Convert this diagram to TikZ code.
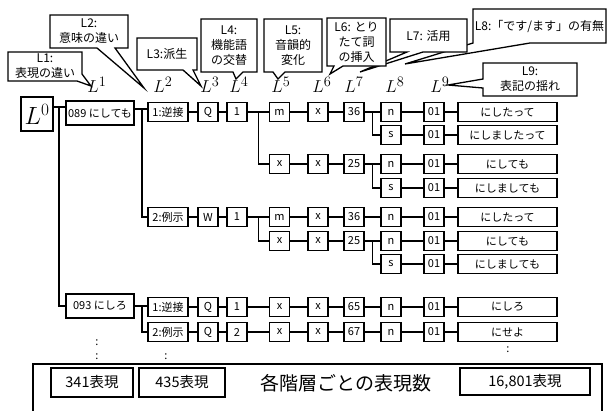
\documentclass[tikz,border=0pt]{standalone}
\usepackage[no-math]{fontspec}
\setmainfont{Noto Sans CJK JP}
\usetikzlibrary{calc}
\begin{document}
\begin{tikzpicture}[x=1pt,y=-1pt,
  bub/.style={draw, line width=1.3pt, fill=white},
  btxt/.style={align=center, inner sep=0pt, font=\fontsize{12}{15}\selectfont},
  lab/.style={inner sep=0pt, font=\fontsize{19}{19}\selectfont},
  tb/.style={draw, line width=1.1pt, fill=white, inner sep=0pt, minimum height=19pt, minimum width=20pt, font=\fontsize{11}{11}\selectfont},
  wide/.style={minimum width=40pt},
  res/.style={minimum width=99pt},
  top/.style={minimum width=68pt, minimum height=24pt},
  ln/.style={line width=1.1pt},
  dot/.style={inner sep=0pt, font=\fontsize{11}{11}\selectfont},
  bb/.style={draw, line width=1.1pt, inner sep=0pt, font=\fontsize{14.5}{14.5}\selectfont}
]
\useasboundingbox (0,0) rectangle (609,410);

% ---------- callout tips ----------
\coordinate (t1) at (91,86);
\coordinate (t2) at (144,88);
\coordinate (t3) at (201,86);
\coordinate (t4) at (236,79);
\coordinate (t5) at (278,79);
\coordinate (t6) at (330,74);
\coordinate (t7) at (360,72);
\coordinate (t8) at (405,64);
\coordinate (t9) at (448,85);

% ---------- callouts (back to front) ----------
\filldraw[bub] (473,9) -- (606,9) -- (606,43) -- (530,43) -- (t8) -- (473,43) -- cycle;
\node[btxt] (c8) at (539.5,26) {L8:「です/ます」の有無};
\filldraw[bub] (390,19) -- (467,19) -- (467,52) -- (423,52) -- (t7) -- (407,52) -- (390,52) -- cycle;
\node[btxt] (c7) at (428.5,35.5) {L7: 活用};
\filldraw[bub] (327,18) -- (386,18) -- (386,66) -- (343,66) -- (t6) -- (334,66) -- (327,66) -- cycle;
\node[btxt] (c6) at (356.5,42) {L6: とり\\たて詞\\の挿入};
\filldraw[bub] (264,19) -- (322,19) -- (322,72) -- (285,72) -- (t5) -- (273,72) -- (264,72) -- cycle;
\node[btxt] (c5) at (293,45.5) {L5:\\音韻的\\変化};
\filldraw[bub] (201,19) -- (257,19) -- (257,72) -- (243,72) -- (t4) -- (233,72) -- (201,72) -- cycle;
\node[btxt] (c4) at (229,45.5) {L4:\\機能語\\の交替};
\filldraw[bub] (137,38) -- (197,38) -- (197,70) -- (193,70) -- (t3) -- (183,70) -- (137,70) -- cycle;
\node[btxt] (c3) at (167,54) {L3:派生};
\filldraw[bub] (50,15) -- (128,15) -- (128,48) -- (115,48) -- (t2) -- (97,48) -- (50,48) -- cycle;
\node[btxt] (c2) at (89,31.5) {L2:\\意味の違い};
\filldraw[bub] (8,52) -- (82,52) -- (82,74) -- (t1) -- (77,81) -- (8,81) -- cycle;
\node[btxt] (c1) at (45,66.5) {L1:\\表現の違い};
\filldraw[bub] (483,63) -- (577,63) -- (577,96) -- (483,96) -- (483,88) -- (t9) -- (483,79) -- cycle;
\node[btxt] (c9) at (530,79.5) {L9:\\表記の揺れ};

% ---------- level labels ----------
\node[lab] (l1) at (97,85) {$L^1$};
\node[lab] (l2) at (163,85) {$L^2$};
\node[lab] (l3) at (210,85) {$L^3$};
\node[lab] (l4) at (239,85) {$L^4$};
\node[lab] (l5) at (281,85) {$L^5$};
\node[lab] (l6) at (322,85) {$L^6$};
\node[lab] (l7) at (354,85) {$L^7$};
\node[lab] (l8) at (395,85) {$L^8$};
\node[lab] (l9) at (440,85) {$L^9$};

% ---------- root ----------
\node[draw, line width=1.3pt, minimum width=32pt, minimum height=34pt, inner sep=0pt,
      font=\fontsize{24}{24}\selectfont] (L0) at (37,114) {$L^0$};

% ---------- row 1 ----------
\node[tb,top] (n089) at (100,113) {089 にしても};
\node[tb,wide] (r1c2) at (168,112) {1:逆接};
\node[tb] (r1c3) at (208,112) {Q};
\node[tb] (r1c4) at (237,112) {1};
\node[tb] (r1c5) at (279.5,112) {m};
\node[tb] (r1c6) at (318,112) {x};
\node[tb] (r1c7) at (354,112) {36};
\node[tb] (r1c8) at (391,112) {n};
\node[tb] (r1c9) at (434,112) {01};
\node[tb,res] (r1c10) at (507.5,112) {にしたって};
% ---------- row 2 ----------
\node[tb] (r2c8) at (391,135) {s};
\node[tb] (r2c9) at (434,135) {01};
\node[tb,res] (r2c10) at (507.5,135) {にしましたって};
% ---------- row 3 ----------
\node[tb] (r3c5) at (279.5,164) {x};
\node[tb] (r3c6) at (318,164) {x};
\node[tb] (r3c7) at (354,164) {25};
\node[tb] (r3c8) at (391,164) {n};
\node[tb] (r3c9) at (434,164) {01};
\node[tb,res] (r3c10) at (507.5,164) {にしても};
% ---------- row 4 ----------
\node[tb] (r4c8) at (391,188) {s};
\node[tb] (r4c9) at (434,188) {01};
\node[tb,res] (r4c10) at (507.5,188) {にしましても};
% ---------- row 5 ----------
\node[tb,wide] (r5c2) at (168,217) {2:例示};
\node[tb] (r5c3) at (208,217) {W};
\node[tb] (r5c4) at (237,217) {1};
\node[tb] (r5c5) at (279.5,217) {m};
\node[tb] (r5c6) at (318,217) {x};
\node[tb] (r5c7) at (354,217) {36};
\node[tb] (r5c8) at (391,217) {n};
\node[tb] (r5c9) at (434,217) {01};
\node[tb,res] (r5c10) at (507.5,217) {にしたって};
% ---------- row 6 ----------
\node[tb] (r6c5) at (279.5,241) {x};
\node[tb] (r6c6) at (318,241) {x};
\node[tb] (r6c7) at (354,241) {25};
\node[tb] (r6c8) at (391,241) {n};
\node[tb] (r6c9) at (434,241) {01};
\node[tb,res] (r6c10) at (507.5,241) {にしても};
% ---------- row 7 ----------
\node[tb] (r7c8) at (391,264) {s};
\node[tb] (r7c9) at (434,264) {01};
\node[tb,res] (r7c10) at (507.5,264) {にしましても};
% ---------- row 8 ----------
\node[tb,top] (n093) at (100,306) {093 にしろ};
\node[tb,wide] (r8c2) at (168,307) {1:逆接};
\node[tb] (r8c3) at (208,307) {Q};
\node[tb] (r8c4) at (237,307) {1};
\node[tb] (r8c5) at (279.5,307) {x};
\node[tb] (r8c6) at (318,307) {x};
\node[tb] (r8c7) at (354,307) {65};
\node[tb] (r8c8) at (391,307) {n};
\node[tb] (r8c9) at (434,307) {01};
\node[tb,res] (r8c10) at (507.5,307) {にしろ};
% ---------- row 9 ----------
\node[tb,wide] (r9c2) at (168,332) {2:例示};
\node[tb] (r9c3) at (208,332) {Q};
\node[tb] (r9c4) at (237,332) {2};
\node[tb] (r9c5) at (279.5,332) {x};
\node[tb] (r9c6) at (318,332) {x};
\node[tb] (r9c7) at (354,332) {67};
\node[tb] (r9c8) at (391,332) {n};
\node[tb] (r9c9) at (434,332) {01};
\node[tb,res] (r9c10) at (507.5,332) {にせよ};

% ---------- connectors ----------
\coordinate (v0) at (59,107);
\draw[ln] (L0.east |- v0) -- (v0) -- (v0 -| n089.west);
\draw[ln] (v0) -- (v0 |- n093) -- (n093.west);
\coordinate (v1) at (142,109);
\draw[ln] (n089.east |- v1) -- (v1) -- (v1 -| r1c2.west);
\draw[ln] (v1) -- (v1 |- r5c2) -- (r5c2.west);
\coordinate (v8) at (142,306);
\draw[ln] (n093.east |- v8) -- (v8) -- (v8 -| r8c2.west);
\draw[ln] (v8) -- (v8 |- r9c2) -- (r9c2.west);

\foreach \r/\a/\b in {1/2/10, 5/2/10, 8/2/10, 9/2/10, 3/5/10, 6/5/10} {
  \pgfmathtruncatemacro{\e}{\b-1}
  \foreach \c in {\a,...,\e} {
    \pgfmathtruncatemacro{\d}{\c+1}
    \draw[ln] (r\r c\c.east) -- (r\r c\d.west);
  }
}
\foreach \r in {2,4,7} {
  \draw[ln] (r\r c8.east) -- (r\r c9.west);
  \draw[ln] (r\r c9.east) -- (r\r c10.west);
}
% branches
\draw[ln] ($(r1c4.east)!.5!(r1c5.west)$) |- (r3c5.west);
\draw[ln] ($(r5c4.east)!.5!(r5c5.west)$) |- (r6c5.west);
\draw[ln] ($(r1c7.east)!.5!(r1c8.west)$) |- (r2c8.west);
\draw[ln] ($(r3c7.east)!.5!(r3c8.west)$) |- (r4c8.west);
\draw[ln] ($(r6c7.east)!.5!(r6c8.west)$) |- (r7c8.west);

% ---------- ellipsis dots ----------
\node[dot] (d1) at (97,343) {:};
\node[dot] (d2) at (97,357) {:};
\node[dot] (d3) at (166,357) {:};
\node[dot] (d4) at (508,350) {:};

% ---------- summary frame ----------
\draw[line width=1.3pt] (33,416) -- (33,364) -- (602,364) -- (602,416);
\node[bb, minimum width=82pt, minimum height=29pt] (s1) at (92,382.5) {341表現};
\node[bb, minimum width=86pt, minimum height=29pt] (s2) at (182,382.5) {435表現};
\node[inner sep=0pt, font=\fontsize{19}{19}\selectfont] (hd) at (346,383) {各階層ごとの表現数};
\node[bb, minimum width=130pt, minimum height=27pt] (s3) at (525,381.5) {16,801表現};
\end{tikzpicture}
\end{document}
